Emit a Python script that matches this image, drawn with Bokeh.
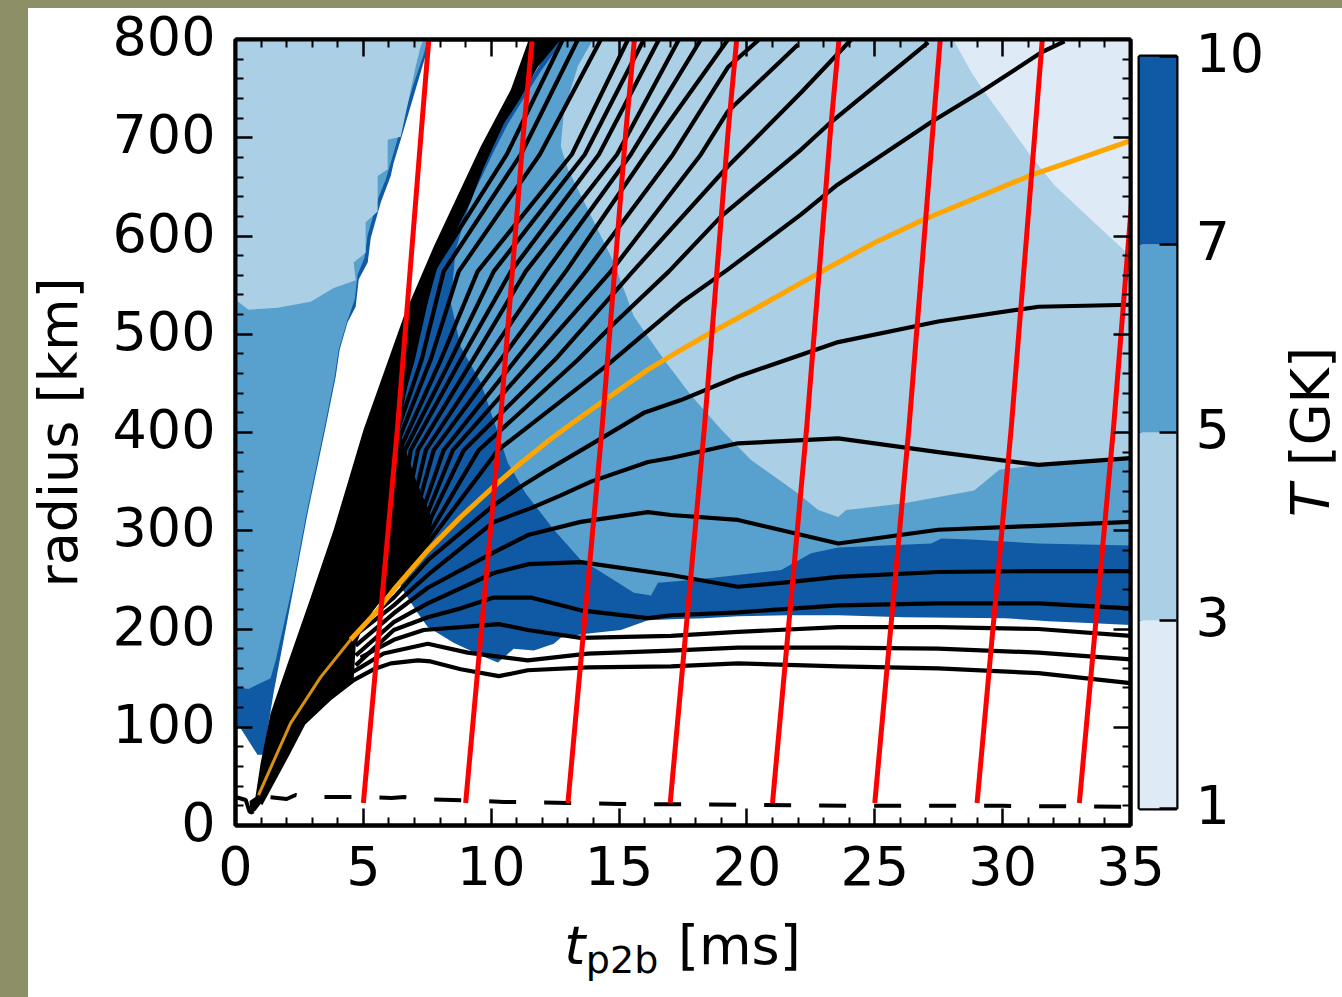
from bokeh.plotting import figure
from bokeh.layouts import row, column
from bokeh.models import FixedTicker, LinearAxis, Range1d
from bokeh.core.properties import value
from bokeh.embed import file_html
from bokeh.resources import INLINE
import math

# colour bands
band_labels = ["1", "3", "5", "7", "10"]
band_colors = ["#deebf7", "#abcfe5", "#58a0cd", "#1059a4"]

# temperature regions, ejecta wedge (t [ms], r [km])
wedge_dark_t = [0, .2, .86, 1.06, 1.17, 1.49, 2.35, 2.82, 3.52, 3.92, 4.07, 4.38, 4.7, 4.82, 5.17, 5.29, 5.68, 6.07, 6.19, 6.46, 7.36, 7.63, 0]
wedge_dark_r = [100, 99, 72, 72, 84, 135, 253, 318, 405, 457, 484, 512, 528, 556, 573, 598, 634, 661, 675, 698, 777, 800, 800]
wedge_mid_t = [0, .51, 1.37, 1.57, 2.31, 2.78, 3.48, 3.88, 4.03, 4.35, 4.66, 4.78, 5.05, 5.17, 5.6, 5.87, 6.11, 6.93, 7.36, 7.52, 0]
wedge_mid_r = [141, 139, 150, 168, 253, 318, 405, 457, 484, 512, 535, 561, 578, 601, 640, 657, 678, 752, 785, 800, 800]
wedge_light_t = [0, .51, 1.64, 2.94, 3.84, 4.7, 4.62, 5.09, 5.09, 5.56, 5.56, 5.95, 5.95, 6.46, 7.05, 7.24, 7.36, 0]
wedge_light_r = [535, 525, 527, 533, 547, 555, 573, 583, 614, 625, 661, 668, 698, 701, 773, 793, 800, 800]

# temperature regions, main ejecta
main_dark_t = [6.46, 7.13, 7.52, 8.53, 9.59, 10.26, 10.49, 10.88, 11.67, 12.45, 12.72, 13.62, 15.07, 16.13, 17.03, 18.32, 19.65, 21.61, 23.57, 26.15, 30.07, 31.79, 33.36, 35, 35, 12.5, 9.51, 7.56, 6.15, 5.68]
main_dark_r = [243, 216, 202, 186, 173, 166, 171, 180, 178, 185, 191, 195, 199, 209, 210, 211, 213, 214, 214, 212, 211, 208, 206, 204, 800, 800, 673, 566, 484, 352]
main_mid_t = [12.84, 11.94, 10.65, 10.1, 9.2, 8.61, 8.42, 8.81, 9.59, 10.26, 10.65, 11.35, 12.45, 13.51, 14.17, 15.58, 16.25, 16.52, 17.03, 18.6, 21.34, 22.51, 23.57, 27.21, 27.6, 28.77, 31.4, 35, 35]
main_mid_r = [800, 768, 714, 686, 637, 586, 532, 487, 451, 400, 369, 338, 301, 270, 260, 237, 234, 247, 248, 252, 260, 277, 283, 287, 292, 291, 287, 285, 800]
main_light_t = [13.98, 13.39, 12.84, 12.72, 13, 13.78, 14.8, 15.58, 16.76, 17.81, 18.99, 20.16, 22, 22.79, 23.57, 23.88, 26.15, 28.89, 29.87, 31.4, 35, 35]
main_light_r = [800, 773, 726, 691, 668, 627, 573, 518, 474, 438, 403, 372, 338, 321, 314, 321, 328, 341, 362, 367, 374, 800]
main_pale_t = [28.07, 28.77, 29.28, 31.12, 32.02, 33.36, 34.73, 35, 35]
main_pale_r = [800, 767, 747, 681, 652, 619, 586, 578, 800]

# the dense bundle of tracks near the front
bundle_t = [.59, .55, .78, .98, 1.37, 2.04, 2.94, 3.84, 4.62, 5.01, 6.58, 7.75, 9.59, 10.77, 11.47, 12.72, 11.82, 11.16, 10.49, 9.71, 9.2, 7.87, 7.33, 6.72, 6.38, 7.05, 7.71, 7.44, 6.19, 5.09, 4.7, 4.62, 3.72, 2.66, 2.04, .98, .78]
bundle_r = [12, 25, 29, 63, 114, 165, 232, 301, 369, 403, 518, 589, 691, 749, 800, 800, 772, 741, 714, 670, 635, 566, 515, 447, 403, 352, 311, 280, 245, 209, 183, 148, 130, 104, 73, 22, 15]

# black tracks
a_t = [.98, 2.04, 2.66, 3.72, 4.62, 5.4, 6.07, 7.13, 7.63, 8.81, 10.3, 11.43, 13.78, 17.03, 19.65, 23.57, 27.48, 31.4, 35]
a_r = [22, 73, 104, 130, 148, 159, 165, 168, 167, 159, 152, 158, 161, 162, 165, 162, 160, 155, 145]
b_t = [3.72, 4.89, 5.79, 7.52, 9.08, 11.43, 13.78, 17.03, 19.65, 23.57, 27.48, 31.4, 35]
b_r = [143, 161, 175, 185, 176, 168, 175, 178, 181, 181, 180, 176, 169]
c_t = [4.89, 6.19, 7.36, 10.3, 11.43, 13.5, 17.03, 19.65, 23.57, 27.48, 31.4, 35]
c_r = [171, 189, 199, 205, 199, 191, 193, 197, 202, 202, 200, 193]
d_t = [4.7, 6.19, 7.52, 8.81, 10.1, 11.55, 13.5, 16.13, 17.03, 19.65, 23.57, 27.48, 31.4, 35]
d_r = [163, 199, 212, 221, 232, 232, 219, 211, 214, 217, 224, 226, 226, 221]
e_t = [4.7, 6.19, 7.52, 10.1, 11.47, 13.5, 17.03, 19.65, 21.73, 23.57, 27.48, 31.4, 35]
e_r = [173, 207, 226, 257, 266, 268, 255, 243, 248, 253, 258, 259, 259]
f_t = [4.7, 6.19, 7.52, 10.1, 11.47, 13.5, 16.13, 17.03, 19.65, 23.57, 27.48, 31.4, 35]
f_r = [183, 216, 242, 278, 296, 309, 319, 316, 311, 287, 301, 305, 309]
g_t = [4.7, 6.19, 7.52, 10.1, 11.55, 12.72, 13.9, 16.13, 17.03, 19.65, 23.57, 27.48, 31.4, 35]
g_r = [194, 224, 255, 309, 323, 336, 350, 370, 374, 389, 394, 380, 367, 374]
h_t = [4.89, 6.19, 7.52, 10.1, 11.16, 12.21, 14.17, 15.97, 17.42, 19.65, 23.57, 27.48, 31.4, 35]
h_r = [204, 232, 270, 326, 345, 362, 392, 420, 433, 457, 492, 513, 528, 530]
i_t = [5.68, 7.63, 10.26, 14.56, 17.42, 19.26, 22.12, 23.53, 27.21, 29.17, 31.52, 32.42]
i_r = [229, 291, 382, 469, 532, 566, 622, 652, 716, 747, 787, 798]
j_t = [5.6, 7.44, 9.51, 13.39, 14.76, 16.95, 18.99, 22.12, 23.29, 27.09]
j_r = [229, 291, 382, 474, 510, 564, 620, 688, 716, 797]
l_t = [5.52, 7.24, 8.93, 12.49, 15.54, 19.26, 22.12, 24.08]
l_r = [229, 291, 382, 474, 564, 671, 746, 800]
m_t = [5.44, 7.09, 8.5, 11.63, 14.68, 18.2, 19.26, 22.0]
m_r = [229, 291, 382, 474, 564, 683, 727, 795]
n_t = [5.36, 6.93, 8.14, 10.96, 13.7, 17.11, 19.26, 20.48]
n_r = [229, 291, 382, 474, 564, 683, 772, 800]
fan_r = [229, 291, 382, 474, 564, 683, 800]
o_t = [5.29, 6.77, 7.75, 10.37, 12.92, 16.05, 19.26]
p_t = [5.21, 6.62, 7.44, 9.79, 12.14, 15.46, 18.2]
q_t = [5.13, 6.46, 7.13, 9.28, 11.35, 14.92, 17.34]
r_t = [5.05, 6.34, 6.85, 8.81, 10.77, 14.21, 16.56]
s_t = [4.97, 6.22, 6.62, 8.42, 10.1, 13.66, 15.97]
t_t = [4.89, 6.11, 6.42, 8.03, 9.47, 13.15, 15.35]
u_t = [4.82, 5.99, 6.22, 7.63, 8.73, 11.9, 14.29]
v_t = [4.74, 5.87, 6.07, 7.28, 8.14, 11.16, 13.39]
w_t = [4.66, 5.75, 5.91, 6.93, 7.71, 10.61, 12.8]

# orange track: its early part is nearly hidden in the bundle
orange_low_t = [.9, 2.15, 3.33, 4.5]
orange_low_r = [31, 104, 151, 189]
orange_t = [4.5, 5.56, 6.19, 7.52, 8.81, 10.1, 11.16, 12.21, 13.19, 14.17, 16.13, 17.42, 18.48, 20.67, 22.79, 23.41, 25.13, 26.94, 31.12, 32.57, 35]
orange_r = [189, 219, 240, 280, 314, 345, 369, 391, 410, 428, 464, 484, 500, 531, 562, 571, 595, 617, 662, 675, 697]

# dashed inner boundary
dash_t = [0, .4, .55, .65, .8, .95, 2.0, 2.35, 2.75, 3.8, 5.2, 6.1, 6.6, 7.0, 8.5, 10.5, 13, 15, 20, 25, 30, 35]
dash_r = [29, 26, 14, 13, 22, 30, 27, 31, 29, 29, 29, 28, 29, 27, 26, 24, 23, 22, 21, 20, 20, 19]

# red isochrones
red_r = [23, 406, 708, 800]
red_1 = [5, 6.34, 7.27, 7.56]
red_2 = [9, 10.34, 11.27, 11.6]
red_3 = [13, 14.34, 15.27, 15.6]
red_4 = [17, 18.34, 19.27, 19.6]
red_5 = [21, 22.34, 23.27, 23.6]
red_6 = [25, 26.34, 27.27, 27.56]
red_7 = [29, 30.34, 31.27, 31.55]
red_8 = [33, 34.34, 35.27, 35.56]

x_major = [0, 5, 10, 15, 20, 25, 30, 35]
x_minor = [t for t in range(0, 36) if t % 5]
y_major = [0, 100, 200, 300, 400, 500, 600, 700, 800]
y_minor = [v for v in range(0, 801, 20) if v % 100]

FONT = value("DejaVu Sans")
TICK_SIZE = value("54px")

# layout, in page pixels
LEFT = 230
FRAME_W, FRAME_H = 895, 786
X_PX = FRAME_W / 35.0
Y_PX = FRAME_H / 800.0
FRAME_L = 235
ROW_H = 860
FRAME_T = 39
FRAME_B = FRAME_T + FRAME_H
TOTAL_W = 1342


def helper(width, height, x_range, y_range):
    f = figure(frame_width=width, frame_height=height, x_range=x_range, y_range=y_range, title=None,
               output_backend="svg", toolbar_location=None, frame_align=False,
               x_axis_location=None, y_axis_location=None,
               min_border_left=0, min_border_right=0, min_border_top=0, min_border_bottom=0,
               outline_line_color=None, border_fill_color=None, background_fill_color=None)
    f.grid.visible = False
    return f


p = figure(frame_width=FRAME_W, frame_height=FRAME_H, x_range=Range1d(0, 35), y_range=Range1d(0, 800), title=None,
           output_backend="svg", toolbar_location=None, frame_align=False,
           min_border_left=5, min_border_top=FRAME_T, min_border_right=5, min_border_bottom=ROW_H - FRAME_B,
           border_fill_color=None, background_fill_color="white",
           outline_line_color="black", outline_line_width=4)
p.grid.visible = False


def style(ax, major, minor):
    ax.ticker = FixedTicker(ticks=major, minor_ticks=minor)
    ax.major_tick_in = 17
    ax.major_tick_out = 0
    ax.minor_tick_in = 8
    ax.minor_tick_out = 0
    ax.major_tick_line_width = 2.5
    ax.minor_tick_line_width = 2
    ax.major_tick_line_color = "black"
    ax.minor_tick_line_color = "black"
    ax.axis_line_width = 4
    ax.axis_line_color = "black"
    ax.major_label_overrides = {m: "" for m in major}
    ax.major_label_text_font_size = "0px"
    ax.major_label_standoff = 0


style(p.xaxis[0], x_major, x_minor)
style(p.yaxis[0], y_major, y_minor)
top_ax = LinearAxis(); style(top_ax, x_major, x_minor); p.add_layout(top_ax, "above")
right_ax = LinearAxis(); style(right_ax, y_major, y_minor); p.add_layout(right_ax, "right")

for xs, ys, c in [(wedge_dark_t, wedge_dark_r, band_colors[3]),
                  (wedge_mid_t, wedge_mid_r, band_colors[2]),
                  (wedge_light_t, wedge_light_r, band_colors[1]),
                  (main_dark_t, main_dark_r, band_colors[3]),
                  (main_mid_t, main_mid_r, band_colors[2]),
                  (main_light_t, main_light_r, band_colors[1]),
                  (main_pale_t, main_pale_r, band_colors[0]),
                  (bundle_t, bundle_r, "black")]:
    p.patch(xs, ys, fill_color=c, line_color=None)

tracks = [(a_t, a_r), (b_t, b_r), (c_t, c_r), (d_t, d_r), (e_t, e_r), (f_t, f_r), (g_t, g_r), (h_t, h_r),
          (i_t, i_r), (j_t, j_r), (l_t, l_r), (m_t, m_r), (n_t, n_r),
          (o_t, fan_r), (p_t, fan_r), (q_t, fan_r), (r_t, fan_r), (s_t, fan_r), (t_t, fan_r), (u_t, fan_r), (v_t, fan_r), (w_t, fan_r)]
for xs, ys in tracks:
    p.line(xs, ys, line_color="black", line_width=4.2, line_join="round")
p.line(dash_t, dash_r, line_color="black", line_width=4, line_dash="27 28")
p.line(orange_low_t, orange_low_r, line_color="#d6920c", line_width=3)
p.line(orange_t, orange_r, line_color="#ffa500", line_width=5, line_join="round")
for xs in (red_1, red_2, red_3, red_4, red_5, red_6, red_7, red_8):
    p.line(xs, red_r, line_color="#ff0000", line_width=5)

# y tick labels and y axis title share the radius scale of the plot
ymax = 800 + FRAME_T / Y_PX
ymin = -(ROW_H - FRAME_B) / Y_PX
left = helper(LEFT, ROW_H, Range1d(0, LEFT), Range1d(ymin, ymax))
left.text(x=[215] * len(y_major), y=y_major, text=[str(v) for v in y_major], text_font=FONT, text_font_size=TICK_SIZE,
          text_color="black", text_align="right", text_baseline="alphabetic", y_offset=-4)
left.text(x=[58], y=[400], text=["radius [km]"], text_font=FONT, text_font_size=TICK_SIZE, text_color="black",
          angle=math.pi / 2, text_align="center", text_baseline="alphabetic")

# colour bar
CB_H = 752
CB_T = 56
cb = figure(frame_width=37, frame_height=CB_H, x_range=Range1d(0, 1), y_range=Range1d(0, 4), title=None,
            output_backend="svg", toolbar_location=None, x_axis_location=None, y_axis_location="right", frame_align=False,
            min_border_left=4, min_border_top=CB_T, min_border_right=3, min_border_bottom=ROW_H - CB_T - CB_H,
            border_fill_color=None, background_fill_color="white",
            outline_line_color="black", outline_line_width=4)
cb.grid.visible = False
band_index = list(range(len(band_colors)))
cb.quad(left=0, right=1, bottom=band_index, top=[i + 1 for i in band_index], fill_color=band_colors, line_color=None)
ax = cb.yaxis[0]
ax.ticker = FixedTicker(ticks=list(range(len(band_labels))))
ax.major_label_overrides = {i: "" for i in range(len(band_labels))}
ax.major_label_text_font_size = "0px"
ax.major_label_standoff = 0
ax.major_tick_in = 17
ax.major_tick_out = 0
ax.minor_tick_in = 0
ax.minor_tick_out = 0
ax.major_tick_line_width = 2.5
ax.axis_line_color = None

# colour bar labels and title, on the scale of the bar
CL_W = TOTAL_W - 1179
band_px = CB_H / 4.0
c_top = 4 + CB_T / band_px
c_bot = -(ROW_H - CB_T - CB_H) / band_px
clab = helper(CL_W, ROW_H, Range1d(TOTAL_W - CL_W, TOTAL_W), Range1d(c_bot, c_top))
clab.text(x=[1195] * len(band_labels), y=list(range(len(band_labels))), text=band_labels, text_font=FONT,
          text_font_size=TICK_SIZE, text_color="black", text_align="left", text_baseline="alphabetic", y_offset=-4)
clab.text(x=[1310], y=[1.55], text=["T"], text_font=FONT, text_font_size=TICK_SIZE, text_font_style="italic",
          text_color="black", angle=math.pi / 2, text_align="left", text_baseline="alphabetic")
clab.text(x=[1310], y=[1.82], text=["[GK]"], text_font=FONT, text_font_size=TICK_SIZE,
          text_color="black", angle=math.pi / 2, text_align="left", text_baseline="alphabetic")

# x tick labels and x axis title share the time scale of the plot
BOT_TOP = 835
BOT_H = 997 - BOT_TOP
bot = helper(TOTAL_W, BOT_H, Range1d(-FRAME_L / X_PX, (TOTAL_W - FRAME_L) / X_PX), Range1d(BOT_TOP + BOT_H, BOT_TOP))
bot.margin = (BOT_TOP - ROW_H, 0, 0, 0)
bot.text(x=x_major, y=[865] * len(x_major), text=[str(v) for v in x_major], text_font=FONT, text_font_size=TICK_SIZE,
         text_color="black", text_align="center", text_baseline="alphabetic")
bot.text(x=[12.86], y=[945], text=["t"], text_font=FONT, text_font_size=TICK_SIZE, text_font_style="italic",
         text_color="black", text_align="left", text_baseline="alphabetic")
bot.text(x=[13.7], y=[959], text=["p2b"], text_font=FONT, text_font_size=value("38px"),
         text_color="black", text_align="left", text_baseline="alphabetic")
bot.text(x=[17.3], y=[945], text=["[ms]"], text_font=FONT, text_font_size=TICK_SIZE,
         text_color="black", text_align="left", text_baseline="alphabetic")

page = column(row(left, p, cb, clab, spacing=0), bot, spacing=0)
html = file_html(page, INLINE)
olive = "#8d8f67"
css = ("<style>html{background:linear-gradient(%s,%s) 0 0/100%% 8px no-repeat,"
       "linear-gradient(%s,%s) 0 0/28px 100%% no-repeat,#ffffff;}body{background:transparent;}</style></head>") % (olive, olive, olive, olive)
html = html.replace("</head>", css, 1)
open("out.html", "w").write(html)
